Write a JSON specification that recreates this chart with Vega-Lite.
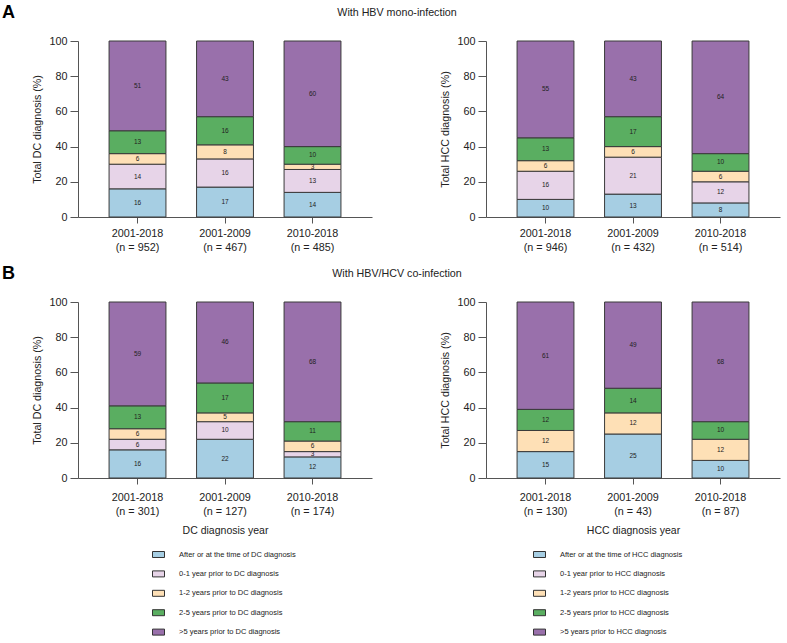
{
  "$schema": "https://vega.github.io/schema/vega-lite/v6.json",
  "padding": {"left": 1, "top": 4, "right": 5, "bottom": 4},
  "data": {"values": [
    {"p":"A-DC","x":"2001-2018|(n = 952)","k":1,"c":"After or at the time of DC diagnosis","v":16},
    {"p":"A-DC","x":"2001-2018|(n = 952)","k":2,"c":"0-1 year prior to DC diagnosis","v":14},
    {"p":"A-DC","x":"2001-2018|(n = 952)","k":3,"c":"1-2 years prior to DC diagnosis","v":6},
    {"p":"A-DC","x":"2001-2018|(n = 952)","k":4,"c":"2-5 years prior to DC diagnosis","v":13},
    {"p":"A-DC","x":"2001-2018|(n = 952)","k":5,"c":">5 years prior to DC diagnosis","v":51},
    {"p":"A-DC","x":"2001-2009|(n = 467)","k":1,"c":"After or at the time of DC diagnosis","v":17},
    {"p":"A-DC","x":"2001-2009|(n = 467)","k":2,"c":"0-1 year prior to DC diagnosis","v":16},
    {"p":"A-DC","x":"2001-2009|(n = 467)","k":3,"c":"1-2 years prior to DC diagnosis","v":8},
    {"p":"A-DC","x":"2001-2009|(n = 467)","k":4,"c":"2-5 years prior to DC diagnosis","v":16},
    {"p":"A-DC","x":"2001-2009|(n = 467)","k":5,"c":">5 years prior to DC diagnosis","v":43},
    {"p":"A-DC","x":"2010-2018|(n = 485)","k":1,"c":"After or at the time of DC diagnosis","v":14},
    {"p":"A-DC","x":"2010-2018|(n = 485)","k":2,"c":"0-1 year prior to DC diagnosis","v":13},
    {"p":"A-DC","x":"2010-2018|(n = 485)","k":3,"c":"1-2 years prior to DC diagnosis","v":3},
    {"p":"A-DC","x":"2010-2018|(n = 485)","k":4,"c":"2-5 years prior to DC diagnosis","v":10},
    {"p":"A-DC","x":"2010-2018|(n = 485)","k":5,"c":">5 years prior to DC diagnosis","v":60},

    {"p":"A-HCC","x":"2001-2018|(n = 946)","k":1,"c":"After or at the time of HCC diagnosis","v":10},
    {"p":"A-HCC","x":"2001-2018|(n = 946)","k":2,"c":"0-1 year prior to HCC diagnosis","v":16},
    {"p":"A-HCC","x":"2001-2018|(n = 946)","k":3,"c":"1-2 years prior to HCC diagnosis","v":6},
    {"p":"A-HCC","x":"2001-2018|(n = 946)","k":4,"c":"2-5 years prior to HCC diagnosis","v":13},
    {"p":"A-HCC","x":"2001-2018|(n = 946)","k":5,"c":">5 years prior to HCC diagnosis","v":55},
    {"p":"A-HCC","x":"2001-2009|(n = 432)","k":1,"c":"After or at the time of HCC diagnosis","v":13},
    {"p":"A-HCC","x":"2001-2009|(n = 432)","k":2,"c":"0-1 year prior to HCC diagnosis","v":21},
    {"p":"A-HCC","x":"2001-2009|(n = 432)","k":3,"c":"1-2 years prior to HCC diagnosis","v":6},
    {"p":"A-HCC","x":"2001-2009|(n = 432)","k":4,"c":"2-5 years prior to HCC diagnosis","v":17},
    {"p":"A-HCC","x":"2001-2009|(n = 432)","k":5,"c":">5 years prior to HCC diagnosis","v":43},
    {"p":"A-HCC","x":"2010-2018|(n = 514)","k":1,"c":"After or at the time of HCC diagnosis","v":8},
    {"p":"A-HCC","x":"2010-2018|(n = 514)","k":2,"c":"0-1 year prior to HCC diagnosis","v":12},
    {"p":"A-HCC","x":"2010-2018|(n = 514)","k":3,"c":"1-2 years prior to HCC diagnosis","v":6},
    {"p":"A-HCC","x":"2010-2018|(n = 514)","k":4,"c":"2-5 years prior to HCC diagnosis","v":10},
    {"p":"A-HCC","x":"2010-2018|(n = 514)","k":5,"c":">5 years prior to HCC diagnosis","v":64},

    {"p":"B-DC","x":"2001-2018|(n = 301)","k":1,"c":"After or at the time of DC diagnosis","v":16},
    {"p":"B-DC","x":"2001-2018|(n = 301)","k":2,"c":"0-1 year prior to DC diagnosis","v":6},
    {"p":"B-DC","x":"2001-2018|(n = 301)","k":3,"c":"1-2 years prior to DC diagnosis","v":6},
    {"p":"B-DC","x":"2001-2018|(n = 301)","k":4,"c":"2-5 years prior to DC diagnosis","v":13},
    {"p":"B-DC","x":"2001-2018|(n = 301)","k":5,"c":">5 years prior to DC diagnosis","v":59},
    {"p":"B-DC","x":"2001-2009|(n = 127)","k":1,"c":"After or at the time of DC diagnosis","v":22},
    {"p":"B-DC","x":"2001-2009|(n = 127)","k":2,"c":"0-1 year prior to DC diagnosis","v":10},
    {"p":"B-DC","x":"2001-2009|(n = 127)","k":3,"c":"1-2 years prior to DC diagnosis","v":5},
    {"p":"B-DC","x":"2001-2009|(n = 127)","k":4,"c":"2-5 years prior to DC diagnosis","v":17},
    {"p":"B-DC","x":"2001-2009|(n = 127)","k":5,"c":">5 years prior to DC diagnosis","v":46},
    {"p":"B-DC","x":"2010-2018|(n = 174)","k":1,"c":"After or at the time of DC diagnosis","v":12},
    {"p":"B-DC","x":"2010-2018|(n = 174)","k":2,"c":"0-1 year prior to DC diagnosis","v":3},
    {"p":"B-DC","x":"2010-2018|(n = 174)","k":3,"c":"1-2 years prior to DC diagnosis","v":6},
    {"p":"B-DC","x":"2010-2018|(n = 174)","k":4,"c":"2-5 years prior to DC diagnosis","v":11},
    {"p":"B-DC","x":"2010-2018|(n = 174)","k":5,"c":">5 years prior to DC diagnosis","v":68},

    {"p":"B-HCC","x":"2001-2018|(n = 130)","k":1,"c":"After or at the time of HCC diagnosis","v":15},
    {"p":"B-HCC","x":"2001-2018|(n = 130)","k":3,"c":"1-2 years prior to HCC diagnosis","v":12},
    {"p":"B-HCC","x":"2001-2018|(n = 130)","k":4,"c":"2-5 years prior to HCC diagnosis","v":12},
    {"p":"B-HCC","x":"2001-2018|(n = 130)","k":5,"c":">5 years prior to HCC diagnosis","v":61},
    {"p":"B-HCC","x":"2001-2009|(n = 43)","k":1,"c":"After or at the time of HCC diagnosis","v":25},
    {"p":"B-HCC","x":"2001-2009|(n = 43)","k":3,"c":"1-2 years prior to HCC diagnosis","v":12},
    {"p":"B-HCC","x":"2001-2009|(n = 43)","k":4,"c":"2-5 years prior to HCC diagnosis","v":14},
    {"p":"B-HCC","x":"2001-2009|(n = 43)","k":5,"c":">5 years prior to HCC diagnosis","v":49},
    {"p":"B-HCC","x":"2010-2018|(n = 87)","k":1,"c":"After or at the time of HCC diagnosis","v":10},
    {"p":"B-HCC","x":"2010-2018|(n = 87)","k":3,"c":"1-2 years prior to HCC diagnosis","v":12},
    {"p":"B-HCC","x":"2010-2018|(n = 87)","k":4,"c":"2-5 years prior to HCC diagnosis","v":10},
    {"p":"B-HCC","x":"2010-2018|(n = 87)","k":5,"c":">5 years prior to HCC diagnosis","v":68}
  ]},
  "spacing": 13,
  "resolve": {"scale": {"fill": "independent"}},
  "vconcat": [
    {
      "title": {"text": "A", "anchor": "start", "fontSize": 18, "fontWeight": "bold", "color": "#000", "dx": -30, "dy": 15, "offset": 0},
      "resolve": {"scale": {"fill": "independent"}},
      "vconcat": [
        {
          "title": {"text": "With HBV mono-infection", "anchor": "middle", "fontSize": 10.7, "fontWeight": "normal", "color": "#222", "offset": 16, "dx": -9},
          "spacing": 67,
          "resolve": {"scale": {"fill": "independent"}},
          "hconcat": [
            {
              "width": 294, "height": 176,
              "transform": [{"filter": "datum.p === 'A-DC'"}],
              "encoding": {
                "x": {"field": "x", "type": "nominal", "sort": null, "scale": {"paddingInner": 0.35, "paddingOuter": 0.355}, "axis": {"title": null, "labelExpr": "split(datum.label, '|')", "labelAngle": 0}},
                "order": {"field": "k", "type": "quantitative"}
              },
              "layer": [
                {"mark": {"type": "bar", "stroke": "#3a3a3a", "strokeWidth": 1},
                 "encoding": {
                   "y": {"field": "v", "type": "quantitative", "stack": "zero", "scale": {"domain": [0, 100], "nice": false}, "axis": {"title": "Total DC diagnosis (%)", "values": [0, 20, 40, 60, 80, 100]}},
                   "fill": {"field": "c", "type": "nominal", "scale": {"domain": ["After or at the time of DC diagnosis","0-1 year prior to DC diagnosis","1-2 years prior to DC diagnosis","2-5 years prior to DC diagnosis",">5 years prior to DC diagnosis"], "range": ["#a6cee3","#e7d4e8","#fee0b6","#5aae61","#9970ab"]}, "legend": null}}},
                {"mark": {"type": "text", "fontSize": 6.5, "color": "#222"},
                 "encoding": {
                   "y": {"field": "v", "type": "quantitative", "stack": "zero", "bandPosition": 0.5, "axis": {"title": "Total DC diagnosis (%)", "values": [0, 20, 40, 60, 80, 100]}},
                   "detail": {"field": "c"},
                   "text": {"field": "v", "type": "quantitative"}}}
              ]
            },
            {
              "width": 294, "height": 176,
              "transform": [{"filter": "datum.p === 'A-HCC'"}],
              "encoding": {
                "x": {"field": "x", "type": "nominal", "sort": null, "scale": {"paddingInner": 0.35, "paddingOuter": 0.355}, "axis": {"title": null, "labelExpr": "split(datum.label, '|')", "labelAngle": 0}},
                "order": {"field": "k", "type": "quantitative"}
              },
              "layer": [
                {"mark": {"type": "bar", "stroke": "#3a3a3a", "strokeWidth": 1},
                 "encoding": {
                   "y": {"field": "v", "type": "quantitative", "stack": "zero", "scale": {"domain": [0, 100], "nice": false}, "axis": {"title": "Total HCC diagnosis (%)", "values": [0, 20, 40, 60, 80, 100]}},
                   "fill": {"field": "c", "type": "nominal", "scale": {"domain": ["After or at the time of HCC diagnosis","0-1 year prior to HCC diagnosis","1-2 years prior to HCC diagnosis","2-5 years prior to HCC diagnosis",">5 years prior to HCC diagnosis"], "range": ["#a6cee3","#e7d4e8","#fee0b6","#5aae61","#9970ab"]}, "legend": null}}},
                {"mark": {"type": "text", "fontSize": 6.5, "color": "#222"},
                 "encoding": {
                   "y": {"field": "v", "type": "quantitative", "stack": "zero", "bandPosition": 0.5, "axis": {"title": "Total HCC diagnosis (%)", "values": [0, 20, 40, 60, 80, 100]}},
                   "detail": {"field": "c"},
                   "text": {"field": "v", "type": "quantitative"}}}
              ]
            }
          ]
        }
      ]
    },
    {
      "title": {"text": "B", "anchor": "start", "fontSize": 18, "fontWeight": "bold", "color": "#000", "dx": -30, "dy": 15, "offset": 0},
      "resolve": {"scale": {"fill": "independent"}},
      "vconcat": [
        {
          "title": {"text": "With HBV/HCV co-infection", "anchor": "middle", "fontSize": 10.7, "fontWeight": "normal", "color": "#222", "offset": 16, "dx": -9},
          "spacing": 67,
          "resolve": {"scale": {"fill": "independent"}},
          "hconcat": [
            {
              "width": 294, "height": 176,
              "transform": [{"filter": "datum.p === 'B-DC'"}],
              "encoding": {
                "x": {"field": "x", "type": "nominal", "sort": null, "scale": {"paddingInner": 0.35, "paddingOuter": 0.355}, "axis": {"title": "DC diagnosis year", "labelExpr": "split(datum.label, '|')", "labelAngle": 0, "labelPadding": 7, "titlePadding": 10}},
                "order": {"field": "k", "type": "quantitative"}
              },
              "layer": [
                {"mark": {"type": "bar", "stroke": "#3a3a3a", "strokeWidth": 1},
                 "encoding": {
                   "y": {"field": "v", "type": "quantitative", "stack": "zero", "scale": {"domain": [0, 100], "nice": false}, "axis": {"title": "Total DC diagnosis (%)", "values": [0, 20, 40, 60, 80, 100]}},
                   "fill": {"field": "c", "type": "nominal", "scale": {"domain": ["After or at the time of DC diagnosis","0-1 year prior to DC diagnosis","1-2 years prior to DC diagnosis","2-5 years prior to DC diagnosis",">5 years prior to DC diagnosis"], "range": ["#a6cee3","#e7d4e8","#fee0b6","#5aae61","#9970ab"]},
                     "legend": {"orient": "none", "legendX": 74, "legendY": 246, "direction": "vertical", "title": null}}}},
                {"mark": {"type": "text", "fontSize": 6.5, "color": "#222"},
                 "encoding": {
                   "y": {"field": "v", "type": "quantitative", "stack": "zero", "bandPosition": 0.5, "axis": {"title": "Total DC diagnosis (%)", "values": [0, 20, 40, 60, 80, 100]}},
                   "detail": {"field": "c"},
                   "text": {"field": "v", "type": "quantitative"}}}
              ]
            },
            {
              "width": 294, "height": 176,
              "transform": [{"filter": "datum.p === 'B-HCC'"}],
              "encoding": {
                "x": {"field": "x", "type": "nominal", "sort": null, "scale": {"paddingInner": 0.35, "paddingOuter": 0.355}, "axis": {"title": "HCC diagnosis year", "labelExpr": "split(datum.label, '|')", "labelAngle": 0, "labelPadding": 7, "titlePadding": 10}},
                "order": {"field": "k", "type": "quantitative"}
              },
              "layer": [
                {"mark": {"type": "bar", "stroke": "#3a3a3a", "strokeWidth": 1},
                 "encoding": {
                   "y": {"field": "v", "type": "quantitative", "stack": "zero", "scale": {"domain": [0, 100], "nice": false}, "axis": {"title": "Total HCC diagnosis (%)", "values": [0, 20, 40, 60, 80, 100]}},
                   "fill": {"field": "c", "type": "nominal", "scale": {"domain": ["After or at the time of HCC diagnosis","0-1 year prior to HCC diagnosis","1-2 years prior to HCC diagnosis","2-5 years prior to HCC diagnosis",">5 years prior to HCC diagnosis"], "range": ["#a6cee3","#e7d4e8","#fee0b6","#5aae61","#9970ab"]},
                     "legend": {"orient": "none", "legendX": 47, "legendY": 246, "direction": "vertical", "title": null}}}},
                {"mark": {"type": "text", "fontSize": 6.5, "color": "#222"},
                 "encoding": {
                   "y": {"field": "v", "type": "quantitative", "stack": "zero", "bandPosition": 0.5, "axis": {"title": "Total HCC diagnosis (%)", "values": [0, 20, 40, 60, 80, 100]}},
                   "detail": {"field": "c"},
                   "text": {"field": "v", "type": "quantitative"}}}
              ]
            }
          ]
        }
      ]
    }
  ],
  "config": {
    "font": "Liberation Sans",
    "view": {"stroke": null},
    "axis": {"domainColor": "#555", "tickColor": "#555", "labelColor": "#222", "titleColor": "#222", "labelFontSize": 10.8, "titleFontSize": 10.7, "titleFontWeight": "normal", "grid": false, "labelFont": "Liberation Sans", "titleFont": "Liberation Sans"},
    "axisY": {"tickSize": 8, "labelPadding": 3, "titlePadding": 6},
    "axisX": {"tickSize": 6, "labelPadding": 4, "labelLineHeight": 14, "titlePadding": 13, "titleFontSize": 10.5},
    "legend": {"padding": 0, "labelFontSize": 7.5, "labelColor": "#222", "labelFont": "Liberation Sans", "symbolType": "M-1,-0.5H1V0.5H-1Z", "symbolSize": 144, "symbolStrokeColor": "#333", "symbolStrokeWidth": 1, "labelOffset": 14, "rowPadding": 7.4, "labelLimit": 300}
  }
}
